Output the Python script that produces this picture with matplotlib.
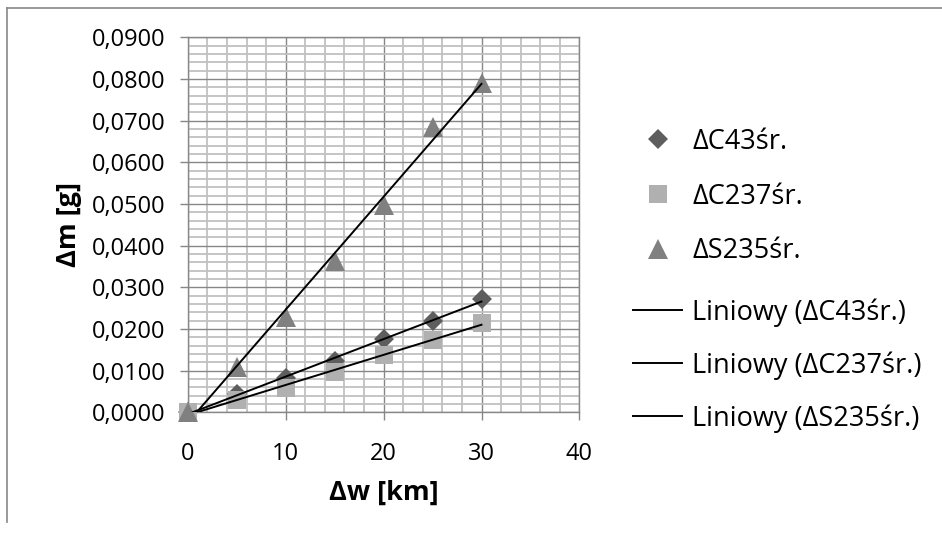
import numpy as np
import matplotlib
matplotlib.use("Agg")
import matplotlib.pyplot as plt
from matplotlib.ticker import MultipleLocator, FuncFormatter
from matplotlib.lines import Line2D

plt.rcParams['font.family'] = ['Open Sans', 'DejaVu Sans']

# Wear distance [km] and mass loss [g] for the three materials
dw = [0, 5, 10, 15, 20, 25, 30]
c43 = [0.0, 0.0043, 0.0082, 0.0124, 0.0175, 0.0219, 0.0272]
c237 = [0.0, 0.0030, 0.0059, 0.0096, 0.0138, 0.0174, 0.0215]
s235 = [0.0, 0.0109, 0.0228, 0.0363, 0.0498, 0.0684, 0.0791]

series_names = ["\u0394C43śr.", "\u0394C237śr.", "\u0394S235śr."]
trend_names = ["Liniowy (\u0394C43śr.)", "Liniowy (\u0394C237śr.)", "Liniowy (\u0394S235śr.)"]

x_ticks = [0, 10, 20, 30, 40]
y_ticks = [0.0, 0.01, 0.02, 0.03, 0.04, 0.05, 0.06, 0.07, 0.08, 0.09]

W, H = 942, 535
fig = plt.figure(figsize=(W / 100, H / 100), dpi=100)

# plot area in pixel units
L, R, T, B = 187.8, 579.4, 37.3, 412.3
ax = fig.add_axes([L / W, 1 - B / H, (R - L) / W, (B - T) / H])

ax.set_xlim(0, 40)
ax.set_ylim(0, 0.09)
ax.set_xticks(x_ticks)
ax.set_yticks(y_ticks)
ax.xaxis.set_minor_locator(MultipleLocator(2))
ax.yaxis.set_minor_locator(MultipleLocator(0.002))
ax.yaxis.set_major_formatter(FuncFormatter(lambda v, p: f"{v:.4f}".replace(".", ",")))

ax.set_axisbelow(True)
ax.grid(which='minor', color='#c0c0c0', lw=1.3)
ax.grid(which='major', color='#878787', lw=1.0)
for s in ax.spines.values():
    s.set_color('#878787')
    s.set_linewidth(1.0)

ax.tick_params(which='major', direction='out', length=5.8, width=1.0,
               color='#878787', labelsize=17, labelcolor='black')
ax.tick_params(axis='y', which='major', pad=10.5)
ax.tick_params(axis='x', which='major', pad=15.5)
ax.tick_params(which='minor', length=0)

styles = [
    dict(marker='D', ms=10.5, color='#5e5e5e'),
    dict(marker='s', ms=13.6, color='#b0b0b0'),
    dict(marker='^', ms=14.0, color='#808080'),
]

marker_handles = []
trend_handles = []
xs = np.array(dw, dtype=float)
for ys, st, name in zip([c43, c237, s235], styles, series_names):
    h, = ax.plot(dw, ys, linestyle='none', marker=st['marker'], ms=st['ms'],
                 color=st['color'], markeredgewidth=0, clip_on=False,
                 zorder=3, label=name)
    marker_handles.append(h)

for ys, name in zip([c43, c237, s235], trend_names):
    k, b = np.polyfit(xs, np.array(ys), 1)
    xl = np.array([xs.min(), xs.max()])
    t, = ax.plot(xl, k * xl + b, color='black', lw=1.4, zorder=4, label=name)
    trend_handles.append(t)

ax.set_xlabel("\u0394w [km]", fontsize=19.5, fontweight='bold', labelpad=10)
ax.set_ylabel("\u0394m [g]", fontsize=19.5, fontweight='bold', labelpad=7)

leg_kw = dict(frameon=False, fontsize=19.5, borderpad=0, borderaxespad=0,
              handlelength=1.81, handletextpad=0.37, numpoints=1,
              loc='center left')
leg1 = fig.legend(handles=marker_handles, labelspacing=0.99,
                  bbox_to_anchor=(633 / W, 1 - 196.5 / H), **leg_kw)
leg2 = fig.legend(handles=trend_handles, labelspacing=0.9,
                  bbox_to_anchor=(633 / W, 1 - 365.5 / H), **leg_kw)

# chart frame
fig.add_artist(Line2D([7 / W, 7 / W], [1 - 8 / H, 1 - 522 / H], color='#888888', lw=1.2))
fig.add_artist(Line2D([7 / W, 1.0], [1 - 8 / H, 1 - 8 / H], color='#888888', lw=1.2))

fig.savefig("out.png", dpi=100)
